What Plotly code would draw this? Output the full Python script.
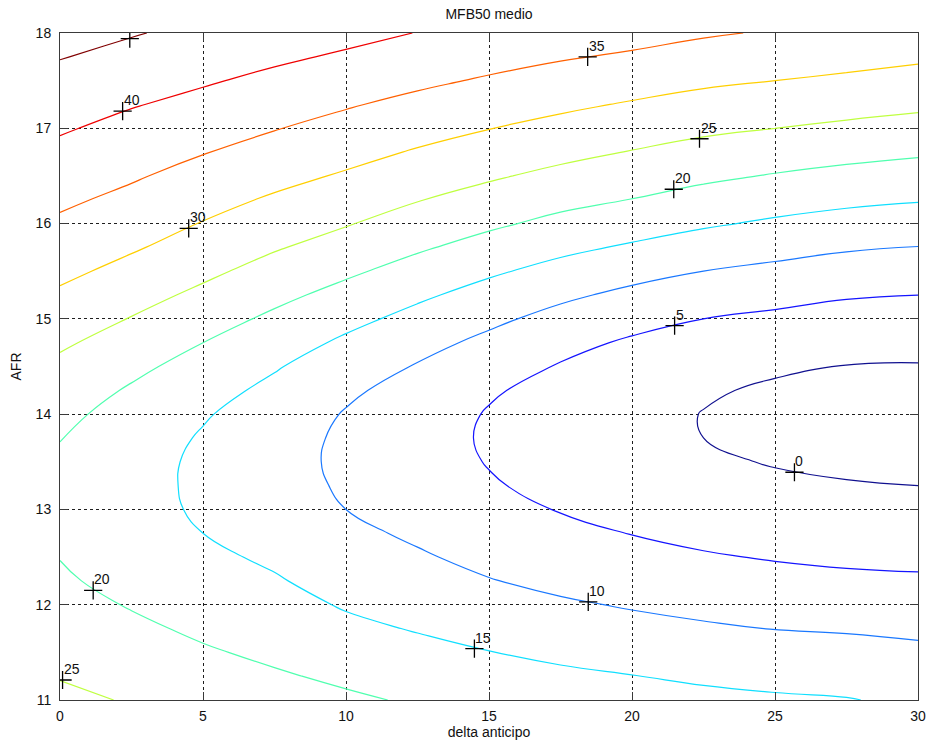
import plotly.graph_objects as go

# x axis: delta anticipo, y axis: AFR
delta_anticipo = [0, 2.5, 5, 7.5, 10, 12.5, 15, 17.5, 20, 22.5, 25, 27.5, 30]
afr = [11.0, 11.25, 11.5, 11.75, 12.0, 12.25, 12.5, 12.75, 13.0, 13.25, 13.5, 13.75,
       14.0, 14.25, 14.5, 14.75, 15.0, 15.25, 15.5, 15.75, 16.0, 16.25, 16.5, 16.75,
       17.0, 17.25, 17.5, 17.75, 18.0]

# MFB50 medio, estimated from the contour positions (rows follow afr, columns follow delta_anticipo)
mfb50 = [
    [25.9, 24.7, 23.1, 21.8, 20.7, 19.5, 18.4, 17.5, 16.8, 16.1, 15.6, 15.2, 14.2],
    [24.8, 23.4, 21.8, 20.5, 19.2, 17.9, 16.8, 15.8, 15.1, 14.3, 13.7, 13.4, 12.6],
    [23.7, 22.1, 20.5, 19.1, 17.6, 16.3, 15.1, 14.1, 13.3, 12.4, 11.8, 11.5, 10.9],
    [22.6, 20.9, 19.2, 17.8, 16.0, 14.7, 13.5, 12.3, 11.4, 10.6, 9.9, 9.6, 9.1],
    [21.6, 19.7, 18.0, 16.6, 14.6, 13.2, 11.8, 10.6, 9.6, 8.7, 8.1, 7.7, 7.4],
    [20.6, 18.6, 16.9, 15.4, 13.3, 11.8, 10.2, 8.9, 7.9, 7.0, 6.4, 5.9, 5.6],
    [19.9, 17.7, 15.9, 14.3, 12.1, 10.5, 8.8, 7.4, 6.3, 5.4, 4.7, 4.2, 4.0],
    [19.4, 17.0, 15.0, 13.2, 11.0, 9.3, 7.5, 6.0, 4.9, 3.9, 3.2, 2.7, 2.5],
    [19.2, 16.6, 14.4, 12.4, 10.0, 8.2, 6.4, 4.8, 3.6, 2.5, 1.8, 1.3, 1.1],
    [19.2, 16.5, 14.2, 11.9, 9.4, 7.4, 5.4, 3.8, 2.5, 1.4, 0.6, 0.2, 0.0],
    [19.5, 16.7, 14.2, 11.7, 9.1, 6.9, 4.8, 3.1, 1.7, 0.5, -0.2, -0.6, -0.7],
    [20.1, 17.3, 14.6, 12.0, 9.2, 6.8, 4.5, 2.8, 1.3, 0.0, -0.8, -1.2, -1.1],
    [21.1, 18.3, 15.4, 12.8, 9.7, 7.3, 4.7, 2.9, 1.3, -0.1, -0.9, -1.3, -1.2],
    [22.5, 19.5, 16.7, 13.9, 10.8, 8.2, 5.5, 3.5, 1.8, 0.4, -0.5, -1.0, -0.9],
    [24.0, 21.1, 18.2, 15.4, 12.3, 9.7, 7.0, 4.7, 2.9, 1.4, 0.5, -0.1, -0.2],
    [25.7, 22.9, 20.0, 17.2, 14.2, 11.5, 8.9, 6.3, 4.4, 3.0, 2.1, 1.3, 1.1],
    [27.5, 24.8, 22.0, 19.1, 16.3, 13.6, 11.0, 8.5, 6.5, 5.0, 4.1, 3.2, 2.9],
    [29.3, 26.7, 24.0, 21.2, 18.5, 15.8, 13.3, 10.9, 8.9, 7.4, 6.4, 5.4, 5.0],
    [31.1, 28.6, 26.0, 23.3, 20.8, 18.2, 15.7, 13.5, 11.6, 10.0, 8.9, 7.8, 7.4],
    [32.7, 30.5, 28.0, 25.4, 23.1, 20.6, 18.3, 16.1, 14.4, 12.8, 11.6, 10.5, 9.9],
    [34.3, 32.2, 29.8, 27.4, 25.3, 22.9, 20.8, 18.8, 17.2, 15.6, 14.3, 13.2, 12.6],
    [35.8, 33.9, 31.6, 29.4, 27.4, 25.2, 23.2, 21.3, 19.9, 18.3, 17.0, 16.0, 15.3],
    [37.4, 35.5, 33.4, 31.4, 29.5, 27.5, 25.6, 23.8, 22.4, 20.9, 19.7, 18.7, 18.0],
    [38.9, 37.1, 35.2, 33.3, 31.5, 29.6, 27.8, 26.3, 24.8, 23.4, 22.4, 21.4, 20.6],
    [40.5, 38.6, 37.0, 35.2, 33.5, 31.7, 30.1, 28.6, 27.2, 25.9, 25.0, 24.1, 23.3],
    [42.0, 40.3, 38.7, 37.1, 35.4, 33.8, 32.3, 30.9, 29.6, 28.4, 27.5, 26.7, 25.9],
    [43.6, 42.0, 40.5, 38.9, 37.4, 35.9, 34.5, 33.2, 32.0, 30.8, 30.0, 29.2, 28.4],
    [45.2, 43.7, 42.2, 40.8, 39.4, 37.9, 36.6, 35.4, 34.4, 33.2, 32.3, 31.6, 30.7],
    [46.7, 45.3, 43.9, 42.6, 41.3, 39.9, 38.7, 37.6, 36.6, 35.5, 34.6, 33.8, 32.9],
]

contour_levels = [0, 5, 10, 15, 20, 25, 30, 35, 40, 45]
level_colors = ['#10108F', '#1414FF', '#1A78FF', '#10DFFF', '#50FFAF',
                '#BFFF40', '#FFCF00', '#FF6000', '#EF0000', '#800000']

# contour labels (clabel style: "+" on the line, value next to it)
label_x = [25.68, 21.49, 18.47, 14.49, 1.16, 0.09, 21.46, 22.36, 4.50, 18.45, 2.19, 2.44]
label_y = [13.39, 14.93, 12.03, 11.54, 12.15, 11.21, 16.36, 16.89, 15.95, 17.75, 17.18, 17.94]
label_text = ['0', '5', '10', '15', '20', '25', '20', '25', '30', '35', '40', '']

x_ticks = [0, 5, 10, 15, 20, 25, 30]
y_ticks = [11, 12, 13, 14, 15, 16, 17, 18]

FONT = 'Liberation Sans, Arial, Helvetica, sans-serif'
FS = 14
lo, hi = contour_levels[0], contour_levels[-1]
colorscale = [[(lv - lo) / (hi - lo), c] for lv, c in zip(contour_levels, level_colors)]

fig = go.Figure()
fig.add_trace(go.Contour(
    x=delta_anticipo, y=afr, z=mfb50,
    zmin=lo, zmax=hi, zauto=False,
    colorscale=colorscale, showscale=False,
    contours=dict(start=lo, end=hi, size=contour_levels[1] - contour_levels[0],
                  coloring='lines', showlabels=False),
    line=dict(width=1.2, smoothing=1.3),
    hoverinfo='skip',
))
fig.add_trace(go.Scatter(
    x=label_x, y=label_y, mode='markers',
    marker=dict(symbol='cross-thin', size=13, color='black', line=dict(width=1.3, color='black')),
    hoverinfo='skip',
))
for lx, ly, lt in zip(label_x, label_y, label_text):
    if lt:
        fig.add_annotation(x=lx, y=ly, text=lt, showarrow=False, xanchor='left', yanchor='bottom',
                           xshift=-1, yshift=1, font=dict(family=FONT, size=FS, color='#111111'))

axis_common = dict(
    showline=True, linecolor='#3a3a3a', linewidth=1, mirror='ticks',
    ticks='inside', ticklen=8, tickwidth=1, tickcolor='#3a3a3a',
    showgrid=True, gridcolor='#1e1e1e', gridwidth=1, griddash='3px,3px',
    zeroline=False, tickfont=dict(family=FONT, size=FS, color='#111111'),
)
fig.update_layout(
    width=937, height=749,
    margin=dict(l=60, r=11, t=33, b=49),
    paper_bgcolor='white', plot_bgcolor='white',
    showlegend=False,
    title=dict(text='MFB50 medio', x=0.5, xref='paper', xanchor='center',
               y=1 - 14 / 749, yref='container', yanchor='middle',
               font=dict(family=FONT, size=FS, color='#111111')),
    xaxis=dict(range=[0, 30], tickvals=x_ticks, ticklabelstandoff=3,
               title=dict(text='delta anticipo', standoff=3, font=dict(family=FONT, size=FS, color='#111111')),
               **axis_common),
    yaxis=dict(range=[11, 18], tickvals=y_ticks, ticklabelstandoff=5,
               title=dict(text='AFR', standoff=10, font=dict(family=FONT, size=FS, color='#111111')),
               **axis_common),
)
fig.write_html("out.html")
